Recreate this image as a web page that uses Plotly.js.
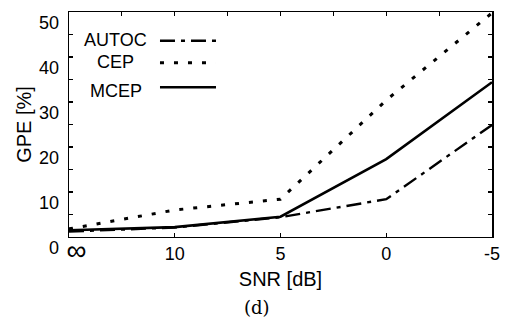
<!DOCTYPE html>
<html>
<head>
<meta charset="utf-8">
<script src="https://cdn.plot.ly/plotly-3.0.1.min.js"></script>
<style>html,body{margin:0;padding:0;background:#fff;}#chart{width:511px;height:320px;}</style>
</head>
<body>
<div id="chart"></div>
<script>
// ---- data ----
var snrLabels = ['\u221E', '10', '5', '0', '-5'];
var seriesNames = ['AUTOC', 'CEP', 'MCEP'];
var autoc = [1.2, 2.1, 4.4, 8.4, 24.9];
var cep   = [1.8, 6.0, 8.4, 30.4, 49.8];
var mcep  = [1.5, 2.2, 4.5, 17.3, 34.4];
var yTickVals = [0, 10, 20, 30, 40, 50];

var xIdx = snrLabels.map(function (_, i) { return i; });
var xText = snrLabels.map(function (s, i) {
  return i === 0 ? '\u00A0\u00A0\u00A0<span style="font-size:28px">' + s + '</span>' : s;
});
var FONT = 'Liberation Sans, Arial, sans-serif';

var dashes = ['15px,6px,4px,6px', '4px,10px', 'solid'];
var widths = [2.4, 3, 2.6];
var values = [autoc, cep, mcep];

var traces = values.map(function (v, k) {
  return {
    x: xIdx, y: v, type: 'scatter', mode: 'lines', name: seriesNames[k],
    line: {color: '#000', width: widths[k], dash: dashes[k]},
    showlegend: false, hoverinfo: 'skip'
  };
});
// invisible helper traces so the top tick axis and the label axis are drawn
traces.push({x: xIdx, y: mcep, xaxis: 'x2', yaxis: 'y', type: 'scatter', mode: 'markers',
  marker: {opacity: 0}, showlegend: false, hoverinfo: 'skip'});
traces.push({x: xIdx, y: mcep, xaxis: 'x', yaxis: 'y2', type: 'scatter', mode: 'markers',
  marker: {opacity: 0}, showlegend: false, hoverinfo: 'skip'});

// legend (text left, sample right), positioned in paper coords
var legTextY = [0.8864, 0.7922, 0.6757];
var legLineY = [0.8819, 0.7914, 0.6901];
var annotations = seriesNames.map(function (n, k) {
  return {text: n, xref: 'paper', yref: 'paper', x: 0.111, y: legTextY[k],
    xanchor: 'center', yanchor: 'middle', showarrow: false,
    font: {family: FONT, size: 18, color: '#000'}};
});
annotations.push({text: '(d)', xref: 'paper', yref: 'paper', x: 0.444, y: -0.214,
  xanchor: 'center', yanchor: 'middle', showarrow: false,
  font: {family: 'DejaVu Serif, Liberation Serif, serif', size: 18, color: '#000'}});
var shapes = seriesNames.map(function (n, k) {
  return {type: 'line', xref: 'paper', yref: 'paper', x0: 0.2151, x1: 0.3475,
    y0: legLineY[k], y1: legLineY[k],
    line: {color: '#000', width: widths[k], dash: dashes[k]}};
});

var layout = {
  width: 511, height: 320,
  margin: {l: 69, r: 19, t: 12, b: 65, pad: 0},
  paper_bgcolor: '#fff', plot_bgcolor: 'rgba(0,0,0,0)',
  font: {family: FONT, size: 18, color: '#000'},
  xaxis: {
    range: [0, 4], tickvals: xIdx, ticktext: xText,
    ticks: 'inside', ticklen: 4, tickwidth: 1.2, tickcolor: '#000',
    showline: true, linewidth: 1.5, linecolor: '#000', mirror: true,
    showgrid: false, zeroline: false, anchor: 'y',
    tickfont: {family: FONT, size: 18},
    title: {text: 'SNR [dB]', font: {family: FONT, size: 20}, standoff: 7}
  },
  xaxis2: {
    range: [0, 4], dtick: 0.5, tick0: 0, overlaying: 'x', side: 'top', anchor: 'y',
    ticks: 'inside', ticklen: 4, tickwidth: 1.2, tickcolor: '#000',
    showticklabels: false, showline: false, showgrid: false, zeroline: false
  },
  yaxis: {
    domain: [0.0741, 1], range: [0, 50], dtick: 5, tick0: 0,
    ticks: 'inside', ticklen: 4, tickwidth: 1.2, tickcolor: '#000',
    showline: true, linewidth: 1.5, linecolor: '#000', mirror: 'ticks',
    showticklabels: false, showgrid: false, zeroline: false, anchor: 'x',
    title: {text: 'GPE [%]', font: {family: FONT, size: 20}, standoff: 30}
  },
  yaxis2: {
    domain: [0.0288, 0.9547], range: [0, 50], tickvals: yTickVals,
    ticks: '', showline: false, showgrid: false, zeroline: false, anchor: 'x',
    ticklabelstandoff: 9, tickfont: {family: FONT, size: 18}
  },
  annotations: annotations,
  shapes: shapes
};

Plotly.newPlot('chart', traces, layout, {staticPlot: true, displayModeBar: false});
</script>
</body>
</html>
